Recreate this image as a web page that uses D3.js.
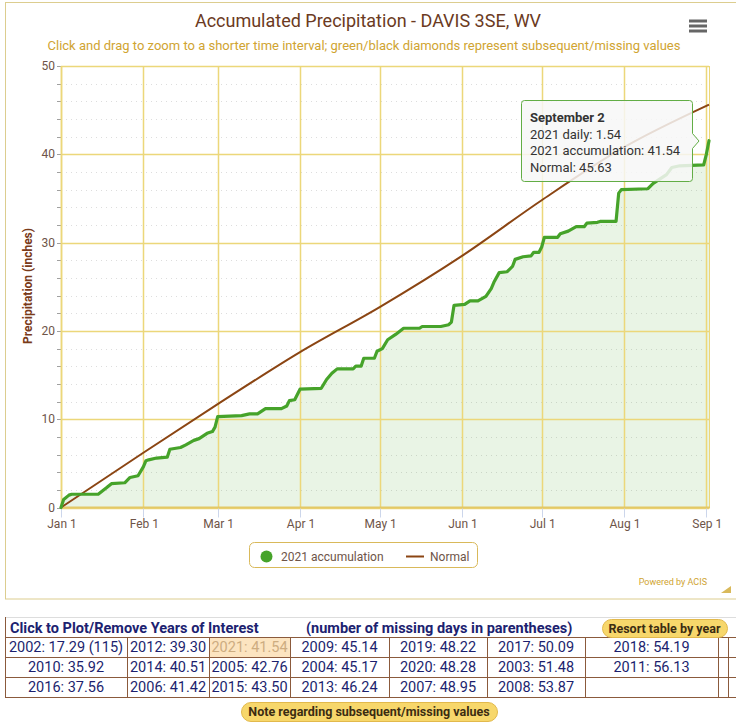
<!DOCTYPE html>
<html>
<head>
<meta charset="utf-8">
<script src="https://cdn.jsdelivr.net/npm/d3@7"></script>
<style>
  body { margin: 0; background: #fff; font-family: Roboto, "Noto Sans", sans-serif; }
  svg text { font-family: Roboto, "Noto Sans", sans-serif; }
</style>
</head>
<body>
<svg id="chart" width="736" height="725"></svg>
<script>
// 2021 accumulation (month-day, inches)
const accDays = ["01-01","01-02","01-04","01-05","01-15","01-18","01-20","01-25","01-27","01-30","02-01","02-02",
  "02-03","02-06","02-10","02-11","02-15","02-17","02-20","02-22","02-24","02-25","02-27","02-28","03-01","03-10",
  "03-13","03-16","03-18","03-19","03-25","03-27","03-28","03-30","03-31","04-01","04-09","04-11","04-13","04-15",
  "04-21","04-22","04-24","04-25","04-29","04-30","05-02","05-04","05-07","05-10","05-16","05-17","05-24","05-27",
  "05-28","05-29","06-02","06-04","06-07","06-10","06-12","06-13","06-15","06-18","06-20","06-21","06-24","06-27",
  "06-28","06-30","07-01","07-02","07-07","07-08","07-11","07-14","07-17","07-18","07-22","07-23","07-29","07-30",
  "07-31","08-10","08-12","08-14","08-17","08-19","08-22","08-31","09-01","09-02"];
const accValues = [0.0,0.9,1.4,1.5,1.5,2.2,2.7,2.8,3.4,3.6,4.6,5.3,
  5.4,5.6,5.7,6.6,6.8,7.1,7.6,7.8,8.2,8.4,8.6,9.1,10.3,10.4,
  10.6,10.6,11.0,11.2,11.2,11.5,12.1,12.2,12.8,13.4,13.5,14.5,15.2,15.7,
  15.7,16.0,16.0,16.9,16.9,17.7,18.0,19.0,19.6,20.3,20.3,20.5,20.5,20.7,
  21.0,22.9,23.0,23.4,23.4,23.9,24.8,25.5,26.6,26.7,27.3,28.1,28.4,28.5,
  28.9,28.9,29.5,30.6,30.6,31.0,31.3,31.8,31.8,32.2,32.3,32.4,32.4,35.6,
  36.0,36.1,36.7,37.1,37.7,38.5,38.7,38.8,40.0,41.54];

// normal accumulation
const normDays = ["01-01","02-01","03-01","04-01","05-01","06-01","07-01","08-01","09-02"];
const normValues = [0, 6.2, 11.7, 17.6, 22.7, 28.5, 34.8, 40.8, 45.63];

const yTicks = [0, 10, 20, 30, 40, 50];
const monthTicks = ["01-01","02-01","03-01","04-01","05-01","06-01","07-01","08-01","09-01"];

const tipLines = ["2021 daily: 1.54", "2021 accumulation: 41.54", "Normal: 45.63"];

// year table
const tableRows = [
  ["2002: 17.29 (115)", "2012: 39.30", "2021: 41.54", "2009: 45.14", "2019: 48.22", "2017: 50.09", "2018: 54.19", ""],
  ["2010: 35.92", "2014: 40.51", "2005: 42.76", "2004: 45.17", "2020: 48.28", "2003: 51.48", "2011: 56.13", ""],
  ["2016: 37.56", "2006: 41.42", "2015: 43.50", "2013: 46.24", "2007: 48.95", "2008: 53.87", "", ""]
];
const colEdges = [5, 127, 209, 290, 389, 487, 585, 718, 728];

const parse = d3.timeParse("%Y-%m-%d");
const toDate = md => parse("2021-" + md);

const acc = accDays.map((d, i) => ({ date: toDate(d), v: accValues[i] }));
const norm = normDays.map((d, i) => ({ date: toDate(d), v: normValues[i] }));

const svg = d3.select("#chart");
const plotL = 61, plotR = 709, plotT = 66, plotB = 507.5;

const x = d3.scaleTime().domain([toDate("01-01"), toDate("09-02")]).range([plotL, plotR]);
const y = d3.scaleLinear().domain([0, 50]).range([plotB, plotT]);

const gold = "#ecd77a";
const labelColor = "#6e5448";
const brown = "#8b4513";
const green = "#46a32a";

// chart frame
svg.append("rect")
  .attr("x", 5.5).attr("y", 2.5).attr("width", 740).attr("height", 596.5)
  .attr("fill", "#fff").attr("stroke", "#dccd8f");

svg.append("text")
  .attr("x", 368).attr("y", 27).attr("text-anchor", "middle")
  .attr("font-size", 18).attr("fill", "#6b3a22")
  .text("Accumulated Precipitation - DAVIS 3SE, WV");

svg.append("text")
  .attr("x", 364).attr("y", 50).attr("text-anchor", "middle")
  .attr("font-size", 13).attr("fill", "#d0a431")
  .text("Click and drag to zoom to a shorter time interval; green/black diamonds represent subsequent/missing values");

// hamburger
[21, 26, 31].forEach(yy => {
  svg.append("rect").attr("x", 689).attr("y", yy - 1.5).attr("width", 18).attr("height", 3)
    .attr("fill", "#666");
});

// minor gridlines (every 2 in)
const minor = d3.range(0, 51, 2).filter(v => v % 10 !== 0);
svg.append("g").selectAll("line").data(minor).join("line")
  .attr("x1", plotL).attr("x2", plotR)
  .attr("y1", d => Math.round(y(d)) + 0.5).attr("y2", d => Math.round(y(d)) + 0.5)
  .attr("stroke", "#dddddd").attr("stroke-dasharray", "1,4");

// minor ticks on y axis
svg.append("g").selectAll("line").data(d3.range(0, 51, 2)).join("line")
  .attr("x1", plotL - 4).attr("x2", plotL)
  .attr("y1", d => Math.round(y(d)) + 0.5).attr("y2", d => Math.round(y(d)) + 0.5)
  .attr("stroke", "#a0a0a0");

// area under accumulation
svg.append("path").datum(acc)
  .attr("d", d3.area().x(d => x(d.date)).y0(y(0)).y1(d => y(d.v)))
  .attr("fill", green).attr("fill-opacity", 0.12);

// major gridlines
svg.append("g").selectAll("line").data(yTicks).join("line")
  .attr("x1", plotL).attr("x2", plotR)
  .attr("y1", d => Math.round(y(d)) + 0.5).attr("y2", d => Math.round(y(d)) + 0.5)
  .attr("stroke", gold).attr("stroke-width", 1.5);

svg.append("g").selectAll("line").data(monthTicks).join("line")
  .attr("x1", d => Math.round(x(toDate(d))) + 0.5).attr("x2", d => Math.round(x(toDate(d))) + 0.5)
  .attr("y1", plotT).attr("y2", plotB)
  .attr("stroke", gold).attr("stroke-width", 1.5);

// axis lines
svg.append("line").attr("x1", plotL + 0.5).attr("x2", plotL + 0.5).attr("y1", plotT).attr("y2", plotB)
  .attr("stroke", gold).attr("stroke-width", 1.5);
svg.append("line").attr("x1", plotR + 0.5).attr("x2", plotR + 0.5).attr("y1", plotT).attr("y2", plotB)
  .attr("stroke", gold).attr("stroke-width", 1);

svg.append("g").selectAll("line").data(monthTicks).join("line")
  .attr("x1", d => Math.round(x(toDate(d))) + 0.5).attr("x2", d => Math.round(x(toDate(d))) + 0.5)
  .attr("y1", plotB).attr("y2", plotB + 10)
  .attr("stroke", "#ccd6eb");
svg.append("line").attr("x1", plotL).attr("x2", plotR + 1).attr("y1", plotB).attr("y2", plotB)
  .attr("stroke", "#e3c866").attr("stroke-width", 2);

svg.append("path").datum(norm)
  .attr("d", d3.line().curve(d3.curveMonotoneX).x(d => x(d.date)).y(d => y(d.v)))
  .attr("fill", "none").attr("stroke", brown).attr("stroke-width", 2);

svg.append("path").datum(acc)
  .attr("d", d3.line().x(d => x(d.date)).y(d => y(d.v)))
  .attr("fill", "none").attr("stroke", green).attr("stroke-width", 3.2)
  .attr("stroke-linejoin", "round").attr("stroke-linecap", "round");

// axis labels
const fmt = d3.timeFormat("%b %-d");
svg.append("g").selectAll("text").data(monthTicks).join("text")
  .attr("x", d => x(toDate(d)) + 1).attr("y", 528).attr("text-anchor", "middle")
  .attr("font-size", 12).attr("fill", labelColor)
  .text(d => fmt(toDate(d)));

svg.append("g").selectAll("text").data(yTicks).join("text")
  .attr("x", 55).attr("y", d => y(d) + 4).attr("text-anchor", "end")
  .attr("font-size", 12).attr("fill", labelColor)
  .text(d => d);

svg.append("text")
  .attr("transform", "translate(32,286) rotate(-90)")
  .attr("text-anchor", "middle").attr("font-size", 12).attr("font-weight", "bold")
  .attr("fill", "#7a3b1a")
  .text("Precipitation (inches)");

// tooltip
const tip = svg.append("g");
tip.append("path")
  .attr("d", "M524.5,100.5 H689.5 Q692.5,100.5 692.5,103.5 V133.5 L699,141 L692.5,148.5 V178.5 Q692.5,181.5 689.5,181.5 H524.5 Q521.5,181.5 521.5,178.5 V103.5 Q521.5,100.5 524.5,100.5 Z")
  .attr("fill", "#f7f7f7").attr("fill-opacity", 0.85)
  .attr("stroke", "#62ad45").attr("stroke-width", 1);
tip.append("text").attr("x", 530).attr("y", 122)
  .attr("font-size", 13).attr("font-weight", "bold").attr("fill", "#333")
  .text("September 2");
tip.selectAll("text.l").data(tipLines).join("text").attr("class", "l")
  .attr("x", 530).attr("y", (d, i) => 138.5 + i * 16.5)
  .attr("font-size", 13).attr("fill", "#333")
  .text(d => d);

// legend
const lg = svg.append("g");
lg.append("rect").attr("x", 249.5).attr("y", 542.5).attr("width", 228).attr("height", 25).attr("rx", 5)
  .attr("fill", "#fff").attr("stroke", "#d9b95a");
lg.append("circle").attr("cx", 266.5).attr("cy", 556.5).attr("r", 6).attr("fill", green);
lg.append("text").attr("x", 281).attr("y", 561).attr("font-size", 12).attr("fill", labelColor)
  .text("2021 accumulation");
lg.append("line").attr("x1", 406).attr("x2", 424).attr("y1", 556.5).attr("y2", 556.5)
  .attr("stroke", brown).attr("stroke-width", 2);
lg.append("text").attr("x", 430).attr("y", 561).attr("font-size", 12).attr("fill", labelColor)
  .text("Normal");

svg.append("text").attr("x", 707).attr("y", 585).attr("text-anchor", "end")
  .attr("font-size", 9).attr("fill", "#d0a431").text("Powered by ACIS");
svg.append("path").attr("d", "M731,586 L731,593 L721,593 Z").attr("fill", "#d9b95a");

// year table
const tb = svg.append("g");
const rowTops = [637, 657, 677, 697];
tb.append("line").attr("x1", 5).attr("x2", 736).attr("y1", 617.5).attr("y2", 617.5).attr("stroke", "#ddd");
tb.append("line").attr("x1", 5.5).attr("x2", 5.5).attr("y1", 617).attr("y2", 697).attr("stroke", "#8b5a3c");

// highlighted cell (2021)
tb.append("rect").attr("x", colEdges[2]).attr("y", rowTops[0]).attr("width", colEdges[3] - colEdges[2])
  .attr("height", 20).attr("fill", "#fce4c0");

rowTops.forEach(r => {
  tb.append("line").attr("x1", 5).attr("x2", 736).attr("y1", r + 0.5).attr("y2", r + 0.5)
    .attr("stroke", "#8b5a3c");
});
colEdges.forEach(c => {
  tb.append("line").attr("x1", c + 0.5).attr("x2", c + 0.5).attr("y1", 637).attr("y2", 697)
    .attr("stroke", "#8b5a3c");
});

tableRows.forEach((row, ri) => {
  row.forEach((cell, ci) => {
    if (!cell) return;
    const hl = cell.startsWith("2021");
    tb.append("text")
      .attr("x", (colEdges[ci] + colEdges[ci + 1]) / 2)
      .attr("y", rowTops[ri] + 15)
      .attr("text-anchor", "middle").attr("font-size", 14.5)
      .attr("fill", hl ? "#cdac80" : "#1c1f6e")
      .text(cell);
  });
});

tb.append("text").attr("x", 10).attr("y", 633).attr("font-size", 14.5).attr("font-weight", "bold")
  .attr("fill", "#1c2270").text("Click to Plot/Remove Years of Interest");
tb.append("text").attr("x", 306).attr("y", 633).attr("font-size", 14.5).attr("font-weight", "bold")
  .attr("fill", "#1c2270").text("(number of missing days in parentheses)");

function button(x0, y0, w, h, label) {
  svg.append("rect").attr("x", x0 + 0.5).attr("y", y0 + 0.5).attr("width", w).attr("height", h)
    .attr("rx", h / 2).attr("fill", "#f7d76b").attr("stroke", "#e2b94c");
  svg.append("text").attr("x", x0 + w / 2).attr("y", y0 + h / 2 + 4.5).attr("text-anchor", "middle")
    .attr("font-size", 12.5).attr("font-weight", "bold").attr("fill", "#3b2c12").text(label);
}
button(602, 619, 125, 18, "Resort table by year");
button(241, 702, 256, 19, "Note regarding subsequent/missing values");
</script>
</body>
</html>
